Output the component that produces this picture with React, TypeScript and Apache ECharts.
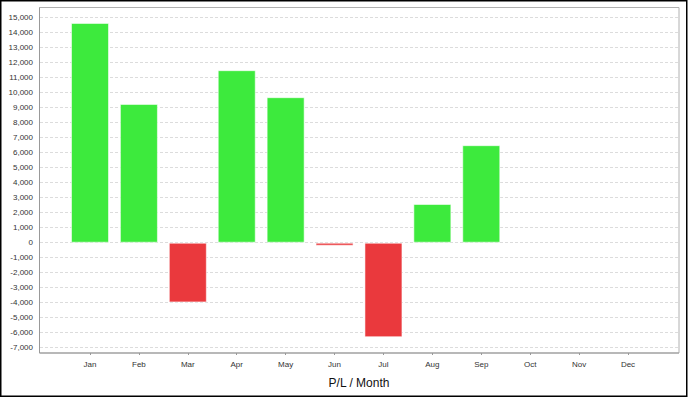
import React, { useEffect, useRef } from "react";
import * as echarts from "echarts";

const months = ["Jan", "Feb", "Mar", "Apr", "May", "Jun", "Jul", "Aug", "Sep", "Oct", "Nov", "Dec"];
const profitLoss: (number | null)[] = [14650, 9250, -3980, 11500, 9700, -200, -6300, 2580, 6500, null, null, null];
const yMin = -7000;
const yMax = 15000;
const yStep = 1000;
const xTitle = "P/L / Month";

const GREEN = "#3dea3d";
const RED = "#ea393d";

export default function App() {
  const ref = useRef<HTMLDivElement>(null);
  useEffect(() => {
    if (!ref.current) return;
    const chart = echarts.init(ref.current, null, { renderer: "svg" });
    const font = "'Liberation Sans', Arial, sans-serif";
    const top = 17.7;
    const bottom = 50.3;
    chart.setOption({
      animation: false,
      backgroundColor: "#fff",
      textStyle: { fontFamily: font },
      grid: [
        { left: 40, right: 9, top, bottom, containLabel: false },
        { left: 65.55, right: 35.55, top, bottom, containLabel: false },
      ],
      xAxis: [
        { type: "category", gridIndex: 0, data: [""], show: false },
        {
          type: "category",
          gridIndex: 1,
          data: months,
          boundaryGap: true,
          offset: 5.3,
          axisLine: { show: false, onZero: false },
          axisTick: { show: true, alignWithLabel: true, length: 2, lineStyle: { color: "#999" } },
          axisLabel: { color: "#333", fontSize: 8, margin: 7, fontFamily: font },
          name: xTitle,
          nameLocation: "middle",
          nameGap: 24,
          nameTextStyle: { color: "#111", fontSize: 12, fontFamily: font },
          splitLine: { show: false },
        },
      ],
      yAxis: [
        {
          type: "value",
          gridIndex: 0,
          min: yMin,
          max: yMax,
          interval: yStep,
          axisLine: { show: false },
          axisTick: { show: false },
          axisLabel: {
            color: "#333",
            fontSize: 8,
            margin: 7,
            fontFamily: font,
            formatter: (v: number) => v.toLocaleString("en-US"),
          },
          splitLine: { show: true, lineStyle: { color: "#dcdcdc", type: [3, 2], width: 1 } },
        },
        {
          type: "value",
          gridIndex: 1,
          min: yMin,
          max: yMax,
          interval: yStep,
          show: false,
          splitLine: { show: false },
        },
      ],
      series: [
        {
          type: "bar",
          xAxisIndex: 1,
          yAxisIndex: 1,
          data: profitLoss.map((v) => (v == null ? "-" : v)),
          barWidth: 38,
          itemStyle: {
            color: (p: any) => (p.value >= 0 ? GREEN : RED),
            borderColor: "rgba(255,255,255,0.55)",
            borderWidth: 1,
          },
        },
      ],
      graphic: [
        {
          type: "rect",
          shape: { x: 39.5, y: 7.5, width: 639.5, height: 345.5 },
          style: { fill: "none", stroke: "#b0b0b0", lineWidth: 1 },
          silent: true,
        },
        {
          type: "polyline",
          shape: { points: [[39.5, 7.5], [39.5, 353], [679, 353]] },
          style: { fill: "none", stroke: "#999", lineWidth: 1 },
          silent: true,
        },
        {
          type: "rect",
          shape: { x: 0.75, y: 0.75, width: 686, height: 395.5 },
          style: { fill: "none", stroke: "#000", lineWidth: 1.5 },
          silent: true,
        },
      ],
    });
    return () => chart.dispose();
  }, []);
  return (
    <div
      ref={ref}
      style={{ position: "fixed", left: 0, top: 0, width: 688, height: 398 }}
    />
  );
}
